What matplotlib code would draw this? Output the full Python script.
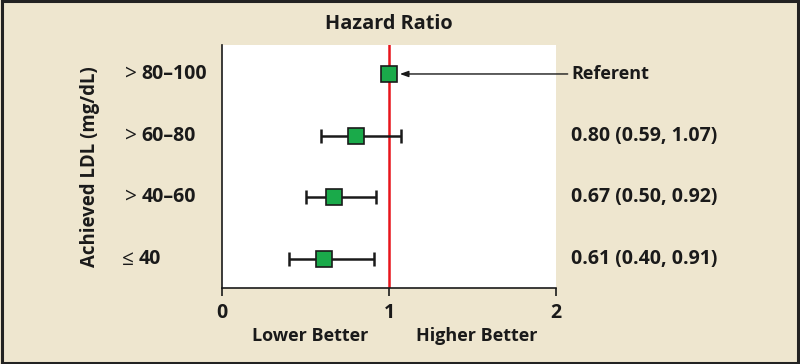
import matplotlib
matplotlib.use('Agg')
import matplotlib.pyplot as plt
from matplotlib.patches import Rectangle

# Data.
symbols = ['>', '>', '>', '\u2264']
ranges = ['80\u2013100', '60\u201380', '40\u201360', '40']
hr = [1.00, 0.80, 0.67, 0.61]
ciLow = [None, 0.59, 0.50, 0.40]
ciHigh = [None, 1.07, 0.92, 0.91]
rightLabels = ['Referent', '0.80 (0.59, 1.07)', '0.67 (0.50, 0.92)',
               '0.61 (0.40, 0.91)']
xTicks = [0, 1, 2]

bg = '#EEE6CF'
green = '#1AAA4A'
ink = '#1a1a1a'
font = ['Open Sans', 'DejaVu Sans']
fsWord = 13
fsNum = 14

plt.rcParams['font.family'] = font

fig = plt.figure(figsize=(8, 3.64), dpi=100)
fig.patch.set_facecolor(bg)
fig.patches.append(Rectangle((0.002, 0.004), 0.996, 0.992,
                             transform=fig.transFigure, fill=False,
                             edgecolor='#222222', lw=2.2))

ax = fig.add_axes([0.2775, 0.2088, 0.4175, 0.6676])
ax.set_facecolor('white')

yPos = list(range(len(hr), 0, -1))

# Red reference line at HR = 1.
ax.axvline(1, color='#E8141B', lw=1.8, zorder=1)

for i, y in enumerate(yPos):
    if ciLow[i] is not None:
        ax.errorbar(hr[i], y, xerr=[[hr[i] - ciLow[i]], [ciHigh[i] - hr[i]]],
                    fmt='none', ecolor=ink, elinewidth=1.8,
                    capsize=5, capthick=1.8, zorder=2)
    ax.plot(hr[i], y, marker='s', markersize=12, color=green,
            markeredgecolor=ink, markeredgewidth=1.2, zorder=3)

ax.set_xlim(0, 2)
ax.set_ylim(0.53, 4.47)
ax.set_xticks(xTicks)
ax.set_xticklabels([str(t) for t in xTicks], fontsize=fsNum,
                   fontweight='bold', color=ink)
ax.set_yticks([])
ax.tick_params(axis='x', direction='out', length=6, width=1.2, pad=5,
               colors=ink)
for s in ['top', 'right']:
    ax.spines[s].set_visible(False)
for s in ['left', 'bottom']:
    ax.spines[s].set_linewidth(1.2)
    ax.spines[s].set_color(ink)

trans = ax.get_yaxis_transform()
for i, y in enumerate(yPos):
    ax.text(-0.290 if symbols[i] == '>' else -0.300, y, symbols[i],
            transform=trans, fontsize=fsNum + 1, va='center', ha='left',
            color=ink, clip_on=False)
    ax.text(-0.242 if symbols[i] == '>' else -0.250, y, ranges[i],
            transform=trans, fontsize=fsNum, fontweight='bold', va='center',
            ha='left', color=ink, clip_on=False)
    ax.text(1.045, y, rightLabels[i], transform=trans,
            fontsize=fsWord if i == 0 else fsNum,
            fontweight='bold', va='center', ha='left', color=ink,
            clip_on=False)

# Arrow from "Referent" to the reference marker.
ax.annotate('', xy=(1.065, yPos[0]), xycoords='data',
            xytext=(1.035, yPos[0]), textcoords=trans,
            arrowprops=dict(arrowstyle='-|>,head_length=0.5,head_width=0.18',
                            color=ink, lw=1.0, shrinkA=0, shrinkB=0))

ax.text(-0.395, 0.5, 'Achieved LDL (mg/dL)', transform=ax.transAxes,
        rotation=90, fontsize=13.4, fontweight='bold', va='center',
        ha='center', color=ink)

fig.text(389 / 800, 1 - 24 / 364, 'Hazard Ratio', fontsize=14.3,
         fontweight='bold', ha='center', va='center', color=ink)
fig.text(310 / 800, 1 - 336 / 364, 'Lower Better', fontsize=fsWord,
         fontweight='bold', ha='center', va='center', color=ink)
fig.text(477 / 800, 1 - 336 / 364, 'Higher Better', fontsize=fsWord,
         fontweight='bold', ha='center', va='center', color=ink)

fig.savefig('out.png', dpi=100, facecolor=bg)
